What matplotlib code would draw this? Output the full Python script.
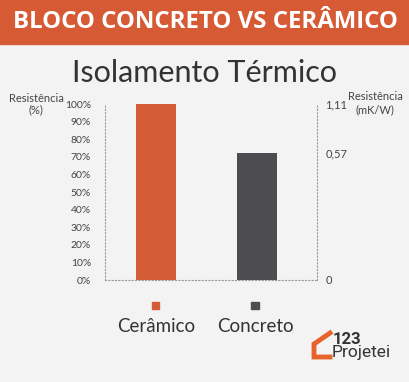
import matplotlib.pyplot as plt
from matplotlib.patches import Rectangle

categories = ["Cerâmico", "Concreto"]
values = [100, 72]  # % da resistência (altura das barras)
right_ticks = [0, 72, 100]
right_labels = ["0", "0,57", "1,11"]
left_ticks = list(range(0, 101, 10))
colors = ["#D35B35", "#4D4D4F"]

plt.rcParams['font.family'] = ['Lato', 'DejaVu Sans']

fig = plt.figure(figsize=(4.10, 3.82), dpi=100)
fig.patch.set_facecolor("#F3F3F3")

# header band
fig.add_artist(Rectangle((0, 1 - 44 / 382), 1, 44 / 382, transform=fig.transFigure,
                         color="#D65A33", zorder=0))
fig.text(0.5, 1 - 22 / 382, "BLOCO CONCRETO VS CERÂMICO", color="white",
         fontsize=17.3, fontweight="bold", ha="center", va="center", family="Open Sans")

fig.text(0.5, 1 - 73 / 382, "Isolamento Térmico", color="#333333",
         fontsize=22, ha="center", va="center")

ax = fig.add_axes([105 / 410, 1 - 280 / 382, 212 / 410, 176 / 382])
ax.set_facecolor("none")
x = range(len(categories))
ax.bar(x, values, width=0.39, color=colors)
ax.set_xlim(-0.503, 1.593)
ax.set_ylim(0, 100)
ax.set_xticks([])
ax.set_yticks(left_ticks)
ax.set_yticklabels([f"{t}%" for t in left_ticks])
ax.tick_params(axis="y", length=0, labelsize=7.5, labelcolor="#444444", pad=10)
for s in ["left", "right", "bottom"]:
    ax.spines[s].set_linestyle((0, (1, 2)))
    ax.spines[s].set_color("#999999")
    ax.spines[s].set_linewidth(0.8)
ax.spines["top"].set_visible(False)

ax2 = ax.twinx()
ax2.set_ylim(0, 100)
ax2.set_yticks(right_ticks)
ax2.set_yticklabels(right_labels)
ax2.tick_params(axis="y", length=0, labelsize=8, labelcolor="#444444", pad=6)
for s in ax2.spines.values():
    s.set_visible(False)

fig.text(36 / 410, 1 - 98 / 382, "Resistência", fontsize=8, color="#444444", ha="center", va="center")
fig.text(36 / 410, 1 - 110 / 382, "(%)", fontsize=8, color="#444444", ha="center", va="center")
fig.text(375 / 410, 1 - 97 / 382, "Resistência", fontsize=8, color="#444444", ha="center", va="center")
fig.text(375 / 410, 1 - 110 / 382, "(mK/W)", fontsize=8, color="#444444", ha="center", va="center")

# legend
for cx, lab, c in zip([156, 255], categories, colors):
    fig.add_artist(Rectangle(((cx - 3.5) / 410, 1 - 309 / 382), 7 / 410, 7 / 382,
                             transform=fig.transFigure, color=c))
    fig.text(cx / 410, 1 - 327 / 382, lab, fontsize=13.5, color="#333333",
             ha="center", va="center")

# logo
fig.add_artist(plt.Line2D([330 / 410, 314 / 410, 314 / 410, 330 / 410],
                          [1 - 333 / 382, 1 - 344 / 382, 1 - 357 / 382, 1 - 357 / 382],
                          transform=fig.transFigure, color="#E8622C", lw=3.5,
                          solid_joinstyle="miter"))
fig.text(333 / 410, 1 - 339 / 382, "123", fontsize=12, fontweight="bold",
         color="#333333", ha="left", va="center", family="Roboto")
fig.text(332 / 410, 1 - 353 / 382, "Projetei", fontsize=12.5, color="#333333",
         ha="left", va="center", family="Roboto")

fig.savefig("out.png", dpi=100)
